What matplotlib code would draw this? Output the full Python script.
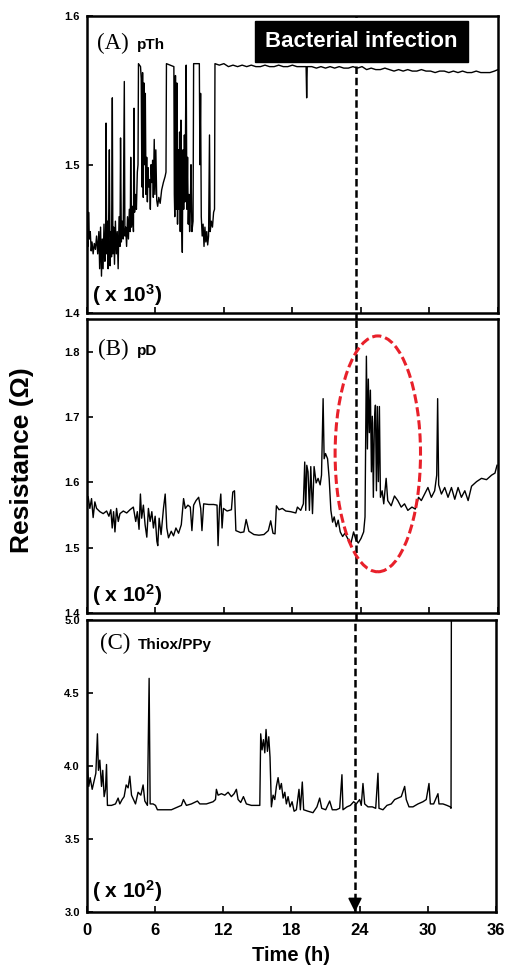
import matplotlib
matplotlib.use('Agg')
import matplotlib.pyplot as plt
from matplotlib.patches import Ellipse

plt.rcParams['font.family'] = ['Liberation Sans', 'DejaVu Sans']
plt.rcParams['mathtext.fontset'] = 'custom'
plt.rcParams['mathtext.rm'] = 'Liberation Sans:bold'
plt.rcParams['mathtext.it'] = 'Liberation Sans:bold'
plt.rcParams['mathtext.bf'] = 'Liberation Sans:bold'

# ---------------- data ----------------
time_ticks = [0, 6, 12, 18, 24, 30, 36]
time_labels = ['0', '6', '12', '18', '24', '30', '36']
infection_time = 23.6
infection_label = 'Bacterial infection'

# (A) pTh, resistance x10^3 ohm
time_a = [0.00, 0.10, 0.15, 0.22, 0.30, 0.38, 0.45, 0.55, 0.65, 0.75, 0.85, 0.95, 1.05, 1.12, 1.20,
          1.28, 1.35, 1.42, 1.50, 1.58, 1.64, 1.68, 1.74, 1.80, 1.86, 1.92, 1.97, 2.03, 2.10, 2.16,
          2.23, 2.28, 2.35, 2.42, 2.50, 2.58, 2.66, 2.74, 2.82, 2.90, 2.95, 3.02, 3.10, 3.18, 3.28,
          3.33, 3.40, 3.48, 3.56, 3.64, 3.72, 3.80, 3.84, 3.90, 4.00, 4.08, 4.13, 4.18, 4.26, 4.34,
          4.42, 4.48, 4.52, 4.70, 4.76, 4.82, 4.88, 4.94, 5.00, 5.06, 5.12, 5.18, 5.24, 5.30, 5.36,
          5.42, 5.50, 5.56, 5.62, 5.70, 5.76, 5.82, 5.90, 5.96, 6.04, 6.12, 6.20, 6.30, 6.42, 6.55,
          6.70, 6.85, 6.93, 6.97, 7.62, 7.66, 7.70, 7.76, 7.82, 7.88, 7.94, 8.00, 8.06, 8.12, 8.18,
          8.24, 8.30, 8.36, 8.42, 8.48, 8.54, 8.60, 8.66, 8.70, 8.76, 8.82, 8.88, 8.94, 9.00, 9.06,
          9.12, 9.20, 9.30, 9.35, 9.85, 9.90, 9.96, 10.02, 10.10, 10.18, 10.26, 10.34, 10.42, 10.50,
          10.58, 10.66, 10.74, 10.80, 10.90, 11.00, 11.10, 11.18, 11.22,
          11.6, 12.0, 12.4, 12.8, 13.2, 13.6, 14.0, 14.4, 14.8, 15.2, 15.6, 16.0, 16.4, 16.8, 17.2,
          17.6, 18.0, 18.4, 18.8, 19.2, 19.25, 19.3, 19.7, 20.1, 20.5, 20.9, 21.3, 21.7, 22.1, 22.5,
          22.9, 23.3, 23.7, 24.1, 24.5, 24.9, 25.3, 25.7, 26.1, 26.5, 26.9, 27.3, 27.7, 28.1, 28.5,
          28.9, 29.3, 29.7, 30.1, 30.5, 30.9, 31.3, 31.7, 32.1, 32.5, 32.9, 33.3, 33.7, 34.1, 34.5,
          34.9, 35.3, 35.7, 36.0]
res_a = [1.452, 1.445, 1.468, 1.450, 1.455, 1.442, 1.448, 1.440, 1.447, 1.443, 1.452, 1.440, 1.455, 1.430, 1.458,
         1.425, 1.450, 1.430, 1.460, 1.435, 1.448, 1.528, 1.440, 1.462, 1.430, 1.470, 1.510, 1.432, 1.455, 1.438,
         1.545, 1.440, 1.458, 1.433, 1.462, 1.440, 1.455, 1.430, 1.465, 1.445, 1.518, 1.448, 1.462, 1.450, 1.556,
         1.452, 1.458, 1.445, 1.465, 1.450, 1.470, 1.455, 1.505, 1.458, 1.472, 1.455, 1.538, 1.468, 1.480, 1.470,
         1.495, 1.500, 1.568, 1.566, 1.558, 1.485, 1.562, 1.478, 1.555, 1.500, 1.548, 1.480, 1.505, 1.475, 1.498,
         1.485, 1.490, 1.470, 1.500, 1.488, 1.503, 1.478, 1.517, 1.480, 1.510, 1.476, 1.472, 1.478, 1.474, 1.483,
         1.488, 1.492, 1.495, 1.568, 1.566, 1.480, 1.465, 1.560, 1.470, 1.555, 1.460, 1.510, 1.470, 1.522, 1.455,
         1.530, 1.465, 1.441, 1.510, 1.470, 1.520, 1.475, 1.545, 1.567, 1.470, 1.505, 1.460, 1.480, 1.455, 1.470,
         1.500, 1.455, 1.462, 1.568, 1.568, 1.500, 1.548, 1.465, 1.452, 1.460, 1.445, 1.458, 1.448, 1.455,
         1.446, 1.452, 1.520, 1.455, 1.462, 1.458, 1.468, 1.470, 1.568,
         1.567, 1.568, 1.566, 1.567, 1.566, 1.567, 1.566, 1.567, 1.566, 1.566, 1.567, 1.566, 1.566, 1.567, 1.566,
         1.566, 1.567, 1.566, 1.566, 1.566, 1.545, 1.566, 1.566, 1.565, 1.566, 1.565, 1.566, 1.565, 1.566, 1.565,
         1.565, 1.566, 1.565, 1.566, 1.564, 1.565, 1.564, 1.564, 1.565, 1.564, 1.563, 1.564, 1.563, 1.564, 1.563,
         1.563, 1.564, 1.563, 1.563, 1.562, 1.563, 1.563, 1.562, 1.563, 1.562, 1.563, 1.562, 1.562, 1.563, 1.562,
         1.562, 1.562, 1.563, 1.564]

# (B) pD, resistance x10^2 ohm
time_b = [0.00, 0.11, 0.26, 0.41, 0.55, 0.70, 0.85, 1.14, 1.43, 1.73, 1.93, 2.10, 2.22, 2.34, 2.46,
          2.60, 2.75, 2.90, 3.19, 3.49, 3.78, 4.07, 4.28, 4.42, 4.57, 4.69, 4.80, 4.95, 5.10, 5.25,
          5.39, 5.54, 5.69, 5.83, 5.98, 6.13, 6.21, 6.33, 6.50, 6.71, 6.86, 7.00, 7.15, 7.39, 7.59,
          7.80, 8.03, 8.27, 8.47, 8.62, 8.85, 9.06, 9.20, 9.35, 9.56, 9.79, 9.97, 10.08, 10.23, 10.67,
          11.11, 11.40, 11.49, 11.61, 11.73, 11.84, 11.96, 12.28, 12.66, 12.78, 12.93, 13.05, 13.46, 13.75, 13.95,
          14.19, 14.63, 15.07, 15.51, 15.89, 16.10, 16.30, 16.48, 16.60, 16.83, 17.12, 17.42, 17.85, 18.30, 18.44,
          18.73, 18.96, 19.08, 19.17, 19.26, 19.37, 19.49, 19.61, 19.76, 19.90, 20.08, 20.25, 20.43, 20.55, 20.69,
          20.78, 20.90, 21.08, 21.22, 21.37, 21.52, 21.66, 21.84, 22.01, 22.19, 22.40, 22.60, 22.84, 23.13, 23.36,
          23.54, 23.77, 24.01, 24.24, 24.36, 24.48, 24.57, 24.65, 24.74, 24.83, 24.92, 25.00, 25.09, 25.18, 25.27,
          25.36, 25.44, 25.53, 25.62, 25.71, 25.86, 26.00, 26.21, 26.35, 26.65, 26.94, 27.23, 27.53, 27.82, 28.11,
          28.47, 28.76, 29.05, 29.29, 29.58, 29.87, 30.17, 30.46, 30.64, 30.72, 30.81, 31.05, 31.34, 31.63, 31.93,
          32.22, 32.51, 32.80, 33.10, 33.39, 33.69, 34.13, 34.56, 35.00, 35.45, 35.74, 35.92]
res_b = [1.565, 1.578, 1.560, 1.575, 1.546, 1.570, 1.560, 1.555, 1.552, 1.556, 1.548, 1.558, 1.530, 1.555, 1.524,
         1.560, 1.540, 1.552, 1.556, 1.553, 1.558, 1.562, 1.540, 1.555, 1.528, 1.582, 1.545, 1.565, 1.535, 1.516,
         1.560, 1.540, 1.555, 1.530, 1.548, 1.510, 1.503, 1.545, 1.520, 1.560, 1.582, 1.530, 1.515, 1.525, 1.518,
         1.530, 1.522, 1.535, 1.575, 1.560, 1.565, 1.562, 1.526, 1.565, 1.572, 1.577, 1.560, 1.526, 1.567, 1.566,
         1.566, 1.565, 1.503, 1.560, 1.582, 1.530, 1.560, 1.556, 1.558, 1.585, 1.587, 1.526, 1.523, 1.524, 1.543,
         1.525, 1.520, 1.519, 1.520, 1.526, 1.541, 1.522, 1.521, 1.564, 1.558, 1.560, 1.556, 1.555, 1.553, 1.562,
         1.557, 1.567, 1.631, 1.557, 1.626, 1.616, 1.557, 1.624, 1.552, 1.624, 1.599, 1.606, 1.596, 1.611, 1.728,
         1.636, 1.644, 1.636, 1.606, 1.557, 1.539, 1.547, 1.532, 1.542, 1.524, 1.517, 1.522, 1.514, 1.507, 1.524,
         1.513, 1.507, 1.514, 1.524, 1.547, 1.793, 1.651, 1.758, 1.676, 1.741, 1.616, 1.701, 1.577, 1.691, 1.718,
         1.587, 1.716, 1.601, 1.716, 1.577, 1.587, 1.567, 1.606, 1.572, 1.564, 1.579, 1.572, 1.562, 1.567, 1.557,
         1.562, 1.559, 1.577, 1.572, 1.582, 1.592, 1.577, 1.587, 1.611, 1.728, 1.596, 1.582, 1.592, 1.577, 1.592,
         1.574, 1.592, 1.577, 1.587, 1.572, 1.594, 1.601, 1.606, 1.604, 1.611, 1.614, 1.626]

# (C) Thiox/PPy, resistance x10^2 ohm
time_c = [0.00, 0.05, 0.17, 0.29, 0.47, 0.64, 0.79, 0.93, 1.02, 1.14, 1.29, 1.40, 1.52, 1.64, 1.73,
          1.81, 2.17, 2.52, 2.75, 2.90, 3.10, 3.28, 3.46, 3.63, 3.78, 3.93, 4.10, 4.28, 4.51, 4.75,
          4.95, 5.10, 5.33, 5.48, 5.57, 5.83, 6.04, 6.21, 6.86, 7.44, 8.03, 8.32, 8.50, 8.76, 9.20,
          9.73, 9.94, 10.52, 11.11, 11.32, 11.40, 11.55, 11.84, 12.14, 12.43, 12.72, 12.96, 13.16, 13.31, 13.54,
          13.78, 14.04, 14.48, 15.22, 15.30, 15.42, 15.54, 15.66, 15.77, 15.89, 16.01, 16.12, 16.24, 16.39, 16.54,
          16.68, 16.83, 16.98, 17.12, 17.27, 17.42, 17.56, 17.71, 17.88, 18.06, 18.24, 18.44, 18.67, 18.79, 18.96,
          19.08, 19.46, 19.90, 20.25, 20.49, 20.67, 21.02, 21.37, 21.60, 21.96, 22.25, 22.45, 22.54, 22.89, 23.19,
          23.48, 23.71, 24.01, 24.15, 24.30, 24.45, 24.74, 25.12, 25.42, 25.62, 25.71, 26.06, 26.41, 26.79, 27.09,
          27.38, 27.67, 27.97, 28.11, 28.35, 28.70, 29.14, 29.58, 29.87, 30.11, 30.23, 30.52, 30.90, 30.99, 31.34,
          31.69, 31.98, 32.05, 32.08]
res_c = [3.93, 4.00, 3.86, 3.92, 3.84, 3.90, 3.95, 4.22, 3.97, 4.04, 3.86, 3.97, 3.79, 3.84, 4.01,
         3.73, 3.73, 3.74, 3.78, 3.74, 3.77, 3.79, 3.87, 3.85, 3.93, 3.80, 3.77, 3.74, 3.82, 3.80,
         3.87, 3.76, 3.73, 4.60, 3.74, 3.74, 3.73, 3.70, 3.70, 3.70, 3.72, 3.73, 3.77, 3.73, 3.74,
         3.76, 3.74, 3.74, 3.755, 3.77, 3.84, 3.80, 3.81, 3.80, 3.82, 3.79, 3.81, 3.84, 3.77, 3.75,
         3.79, 3.74, 3.73, 3.73, 4.22, 4.11, 4.18, 4.09, 4.25, 4.10, 4.20, 4.06, 3.72, 3.80, 3.77,
         3.86, 3.92, 3.84, 3.88, 3.78, 3.82, 3.74, 3.79, 3.72, 3.755, 3.69, 3.70, 3.84, 3.70, 3.89,
         3.70, 3.69, 3.68, 3.72, 3.78, 3.71, 3.70, 3.76, 3.70, 3.70, 3.71, 3.94, 3.70, 3.72, 3.73,
         3.755, 3.74, 3.77, 3.73, 3.88, 3.74, 3.72, 3.72, 3.71, 3.95, 3.71, 3.70, 3.73, 3.74, 3.77,
         3.78, 3.79, 3.86, 3.77, 3.72, 3.72, 3.74, 3.755, 3.77, 3.88, 3.74, 3.74, 3.81, 3.74, 3.74,
         3.73, 3.72, 3.71, 5.05]

panels = [
    dict(name='(A)', sub='pTh', t=time_a, r=res_a, ylim=(1.4, 1.6),
         yticks=[1.4, 1.5, 1.6], ylabels=['1.4', '1.5', '1.6'], exp='3'),
    dict(name='(B)', sub='pD', t=time_b, r=res_b, ylim=(1.4, 1.85),
         yticks=[1.4, 1.5, 1.6, 1.7, 1.8], ylabels=['1.4', '1.5', '1.6', '1.7', '1.8'], exp='2'),
    dict(name='(C)', sub='Thiox/PPy', t=time_c, r=res_c, ylim=(3.0, 5.0),
         yticks=[3.0, 3.5, 4.0, 4.5, 5.0], ylabels=['3.0', '3.5', '4.0', '4.5', '5.0'], exp='2'),
]

# ---------------- layout ----------------
fig = plt.figure(figsize=(5.05, 9.76), dpi=100)
rects = [[0.172, 0.679, 0.814, 0.3045],
         [0.172, 0.372, 0.814, 0.3012],
         [0.172, 0.0656, 0.810, 0.2992]]
name_pos = [(0.024, 0.122, 0.889), (0.027, 0.122, 0.878), (0.032, 0.124, 0.902)]
exp_y = [0.037, 0.037, 0.048]

axes = []
for i, (p, rect) in enumerate(zip(panels, rects)):
    ax = fig.add_axes(rect)
    axes.append(ax)
    ax.plot(p['t'], p['r'], color='black', lw=1.0, zorder=3)
    ax.set_xlim(0, 36)
    ax.set_ylim(*p['ylim'])
    ax.set_yticks(p['yticks'], labels=p['ylabels'], fontweight='bold', fontsize=8)
    ax.set_xticks(time_ticks)
    ax.tick_params(direction='in', length=4, width=1.2, top=False, right=False)
    ax.tick_params(axis='y', pad=5)
    for s in ax.spines.values():
        s.set_linewidth(1.8)
    if i < 2:
        ax.tick_params(labelbottom=False)
    else:
        ax.set_xticklabels(time_labels, fontweight='bold', fontsize=12)
        ax.tick_params(axis='x', pad=8)
    nx, sx, ny = name_pos[i]
    ax.text(nx, ny, p['name'], transform=ax.transAxes, family=['Liberation Serif'],
            fontsize=16.5, va='baseline', ha='left', zorder=6)
    ax.text(sx, ny, p['sub'], transform=ax.transAxes, fontsize=11, fontweight='bold',
            va='baseline', ha='left', zorder=6)
    ax.text(0.012, exp_y[i], '( x 10$^{%s}$)' % p['exp'], transform=ax.transAxes,
            fontsize=15, fontweight='bold', va='baseline', ha='left', zorder=6)
    ymin = -0.025 if i < 2 else 0.0
    ax.axvline(infection_time, ymin=ymin, ymax=1.0, color='black', lw=1.8,
               linestyle=(0, (3, 1.5)), clip_on=False, zorder=4)

axA, axB, axC = axes
axA.text(0.668, 0.914, infection_label, transform=axA.transAxes, color='white',
         fontsize=16, fontweight='bold', ha='center', va='center', zorder=10,
         bbox=dict(boxstyle='square,pad=0.45', facecolor='black', edgecolor='black'))

axB.add_patch(Ellipse((25.48, 1.6435), width=7.48, height=0.361, fill=False,
                      edgecolor='#e8202a', lw=2.2, linestyle=(0, (3, 1.3)), zorder=5))

axC.annotate('', xy=(infection_time, 3.0), xytext=(infection_time, 3.09),
             arrowprops=dict(arrowstyle='-|>,head_length=0.6,head_width=0.3', color='black',
                             lw=1.2, mutation_scale=14, shrinkA=0, shrinkB=0), zorder=6)

axC.set_xlabel('Time (h)', fontsize=14.5, fontweight='bold', labelpad=6)
fig.text(0.044, 0.529, 'Resistance (\u03a9)', rotation=90, fontsize=19, fontweight='bold',
         ha='center', va='center')

fig.savefig('out.png', dpi=100)
